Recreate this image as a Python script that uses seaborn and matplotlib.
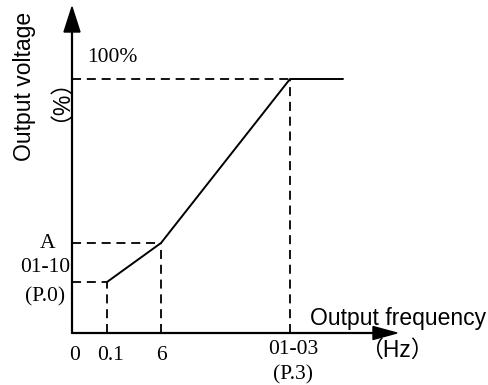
import matplotlib
matplotlib.use("Agg")
import matplotlib.pyplot as plt
import seaborn as sns
import pandas as pd
from matplotlib.patches import Polygon

# schematic V/F curve (positions along axes, arbitrary units)
curve_x = [0.35, 0.89, 2.18, 2.71]
curve_y = [0.51, 0.90, 2.54, 2.54]
freq_labels = ["0", "0.1", "6", "01-03", "(P.3)"]
volt_labels = ["01-10", "(P.0)", "A", "100%"]

sns.set_theme(style="white")
plt.rcParams['font.family'] = ['Liberation Serif', 'DejaVu Sans']

fig = plt.figure(figsize=(4.89, 3.85), dpi=100)
ax = fig.add_axes([0, 0, 1, 1])
ax.set_xlim(-0.72, 4.17)
ax.set_ylim(-0.52, 3.33)
ax.axis("off")

df = pd.DataFrame({"f": curve_x, "v": curve_y})
sns.lineplot(data=df, x="f", y="v", ax=ax, color="black", lw=1.4, sort=False)

# dashed guides
dash = (0, (5, 3.2))
for xi, yi in zip(curve_x[:3], curve_y[:3]):
    ax.plot([0, xi], [yi, yi], color="black", lw=1.3, ls=dash)
    ax.plot([xi, xi], [0, yi], color="black", lw=1.3, ls=dash)

# axes with arrows
ax.plot([0, 0], [0, 3.05], color="black", lw=1.6)
ax.plot([0, 3.05], [0, 0], color="black", lw=1.6)
ax.add_patch(Polygon([[-0.08, 3.01], [0.08, 3.01], [0, 3.26]], closed=True, color="black"))
ax.add_patch(Polygon([[3.01, 0.065], [3.01, -0.065], [3.25, 0]], closed=True, color="black"))

serif = dict(family=['Liberation Serif', 'DejaVu Sans'], fontsize=15.5, color="black")
sans = dict(family=['Liberation Sans', 'Noto Sans CJK SC'], fontsize=16.5, color="black")

# x tick labels
ax.text(0.03, -0.22, freq_labels[0], ha="center", va="center", **serif)
ax.text(0.39, -0.22, freq_labels[1], ha="center", va="center", **serif)
ax.text(curve_x[1], -0.22, freq_labels[2], ha="center", va="center", **serif)
ax.text(curve_x[2] + 0.03, -0.17, freq_labels[3], ha="center", va="center", **serif)
ax.text(curve_x[2] + 0.03, -0.415, freq_labels[4], ha="center", va="center", **serif)

# y tick labels
ax.text(-0.265, 0.65, volt_labels[0], ha="center", va="center", **serif)
ax.text(-0.265, 0.36, volt_labels[1], ha="center", va="center", **serif)
ax.text(-0.24, curve_y[1], volt_labels[2], ha="center", va="center", **serif)
ax.text(0.15, 2.76, volt_labels[3], ha="left", va="center", **serif)

# axis titles
ax.text(2.38, 0.15, "Output frequency", ha="left", va="center", **sans)
ax.text(3.25, -0.17, "（Hz）", ha="center", va="center", **sans)
ax.text(-0.48, 2.465, "Output voltage", ha="center", va="center", rotation=90, **sans)
ax.text(-0.24, 2.44, "（%）", ha="center", va="center", rotation=90, **sans)

fig.savefig("out.png", dpi=100)
